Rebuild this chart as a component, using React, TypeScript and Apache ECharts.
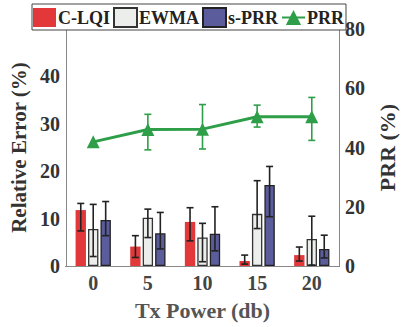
import React, { useEffect, useRef } from "react";
import * as echarts from "echarts";

const categories = ["0", "5", "10", "15", "20"];
const clqi = [11.8, 4.1, 9.3, 1.05, 2.3];
const clqiLow = [7.4, 1.8, 5.3, 0.4, 1.05];
const clqiHigh = [13.2, 6.4, 12.3, 2.3, 4.0];
const ewma = [7.8, 10.2, 6.0, 11.0, 5.7];
const ewmaLow = [2.0, 6.0, 0.9, 7.9, 0.2];
const ewmaHigh = [13.0, 12.0, 9.0, 18.0, 10.5];
const sprr = [9.7, 6.9, 6.8, 17.1, 3.6];
const sprrLow = [6.4, 3.6, 3.2, 10.4, 1.7];
const sprrHigh = [13.6, 11.3, 12.5, 21.0, 6.5];
const prr = [41.9, 46.1, 46.2, 50.4, 50.4];
const prrLow: (number | null)[] = [null, 39.2, 39.5, 46.9, 42.4];
const prrHigh: (number | null)[] = [null, 51.2, 54.5, 54.3, 56.9];

const BAR_W = 0.19;
const BAR_GAP = 0.2;
const FONT = "Liberation Serif, serif";

function errData(low: (number | null)[], high: (number | null)[]) {
  const out: any[] = [];
  low.forEach((l, i) => {
    if (l != null && high[i] != null) out.push([i, l, high[i]]);
  });
  return out;
}

function makeErr(slot: number, color: string, yAxisIndex: number, low: any[], high: any[]) {
  return {
    type: "custom",
    yAxisIndex,
    z: 5,
    silent: true,
    encode: { x: 0, y: [1, 2] },
    data: errData(low, high),
    renderItem: (params: any, api: any) => {
      const band = api.size([1, 0])[0];
      const bw = band * BAR_W;
      const off = slot === 99 ? 0 : (slot - 1) * bw * (1 + BAR_GAP);
      const lo = api.coord([api.value(0), api.value(1)]);
      const hi = api.coord([api.value(0), api.value(2)]);
      const x = lo[0] + off;
      const cap = 3.5;
      const style = { stroke: color, lineWidth: 1.6 };
      return {
        type: "group",
        children: [
          { type: "line", shape: { x1: x, y1: lo[1], x2: x, y2: hi[1] }, style },
          { type: "line", shape: { x1: x - cap, y1: lo[1], x2: x + cap, y2: lo[1] }, style },
          { type: "line", shape: { x1: x - cap, y1: hi[1], x2: x + cap, y2: hi[1] }, style },
        ],
      };
    },
  };
}

export default function App() {
  const ref = useRef<HTMLDivElement>(null);
  useEffect(() => {
    if (!ref.current) return;
    const chart = echarts.init(ref.current, null, { renderer: "svg" });
    const red = "#e2383a";
    const light = "#eceeec";
    const blue = "#5a5c9c";
    const green = "#2e9f48";
    const textColor = "#333";
    chart.setOption({
      animation: false,
      textStyle: { fontFamily: FONT },
      legend: {
        left: 32,
        top: 4,
        padding: [3, 2, 2, 1],
        itemWidth: 23,
        itemHeight: 19,
        itemGap: 3,
        borderColor: "#444",
        borderWidth: 1,
        backgroundColor: "#fff",
        z: 10,
        textStyle: {
          fontFamily: FONT,
          fontWeight: "bold",
          fontSize: 18,
          color: "#222",
          padding: [0, 0, 0, -3],
        },
        data: [
          { name: "C-LQI", icon: "rect" },
          { name: "EWMA", icon: "rect" },
          { name: "s-PRR", icon: "rect" },
          { name: "PRR" },
        ],
      },
      grid: { left: 59, right: 55, top: 29, bottom: 61 },
      xAxis: [
        {
          type: "category",
          data: categories,
          position: "bottom",
          axisLine: { lineStyle: { color: "#333", width: 1.2 } },
          axisTick: { inside: true, length: 4, alignWithLabel: true, lineStyle: { color: "#555" } },
          axisLabel: { fontFamily: FONT, fontWeight: "bold", fontSize: 20, color: "#444", margin: 7 },
          name: "Tx Power (db)",
          nameLocation: "middle",
          nameGap: 33,
          nameTextStyle: { fontFamily: FONT, fontWeight: "bold", fontSize: 22, color: "#555" },
        },
        {
          type: "category",
          data: categories,
          position: "top",
          axisLine: { lineStyle: { color: "#888" } },
          axisTick: { inside: true, length: 4, alignWithLabel: true, lineStyle: { color: "#666" } },
          axisLabel: { show: false },
        },
      ],
      yAxis: [
        {
          type: "value",
          min: 0,
          max: 50,
          interval: 5,
          position: "left",
          axisLine: { show: true, lineStyle: { color: "#888" } },
          axisTick: { inside: true, length: 4, lineStyle: { color: "#666" } },
          splitLine: { show: false },
          axisLabel: {
            fontFamily: FONT,
            fontWeight: "bold",
            fontSize: 20,
            color: textColor,
            margin: 6,
            formatter: (v: number) => (v % 10 === 0 && v < 50 ? String(v) : ""),
          },
          name: "Relative Error (%)",
          nameLocation: "middle",
          nameRotate: 90,
          nameGap: 29,
          nameTextStyle: { fontFamily: FONT, fontWeight: "bold", fontSize: 21, color: textColor },
        },
        {
          type: "value",
          min: 0,
          max: 80,
          interval: 10,
          position: "right",
          axisLine: { show: true, lineStyle: { color: "#888" } },
          axisTick: { inside: true, length: 4, lineStyle: { color: "#666" } },
          splitLine: { show: false },
          axisLabel: {
            fontFamily: FONT,
            fontWeight: "bold",
            fontSize: 20,
            color: textColor,
            margin: 6,
            formatter: (v: number) => (v % 20 === 0 ? String(v) : ""),
          },
          name: "PRR (%)",
          nameLocation: "middle",
          nameRotate: 90,
          nameGap: 30,
          nameTextStyle: { fontFamily: FONT, fontWeight: "bold", fontSize: 22, color: textColor },
        },
      ],
      series: [
        {
          name: "C-LQI",
          type: "bar",
          data: clqi,
          barWidth: BAR_W * 100 + "%",
          barGap: BAR_GAP * 100 + "%",
          itemStyle: { color: red },
        },
        {
          name: "EWMA",
          type: "bar",
          data: ewma,
          barWidth: BAR_W * 100 + "%",
          barGap: BAR_GAP * 100 + "%",
          itemStyle: { color: light, borderColor: "#333", borderWidth: 1.3 },
        },
        {
          name: "s-PRR",
          type: "bar",
          data: sprr,
          barWidth: BAR_W * 100 + "%",
          barGap: BAR_GAP * 100 + "%",
          itemStyle: { color: blue, borderColor: "#222", borderWidth: 1.3 },
        },
        {
          name: "PRR",
          type: "line",
          yAxisIndex: 1,
          data: prr,
          symbol: "triangle",
          symbolSize: 13,
          lineStyle: { color: green, width: 3 },
          itemStyle: { color: green },
          z: 6,
        },
        makeErr(0, "#222", 0, clqiLow, clqiHigh),
        makeErr(1, "#222", 0, ewmaLow, ewmaHigh),
        makeErr(2, "#222", 0, sprrLow, sprrHigh),
        makeErr(99, green, 1, prrLow, prrHigh),
      ],
    });
    return () => chart.dispose();
  }, []);
  return (
    <div
      ref={ref}
      style={{ position: "fixed", left: 0, top: 0, width: 406, height: 327, background: "#fff" }}
    />
  );
}
